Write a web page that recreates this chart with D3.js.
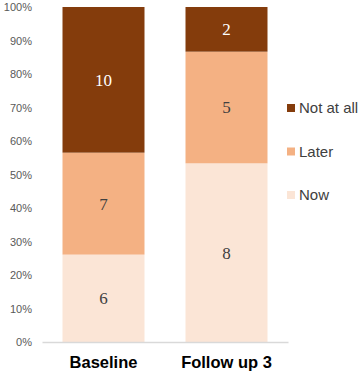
<!DOCTYPE html>
<html>
<head>
<meta charset="utf-8">
<script src="https://cdn.jsdelivr.net/npm/d3@7"></script>
<style>
  body { margin: 0; background: #fff; }
  svg { display: block; }
</style>
</head>
<body>
<div id="chart"></div>
<script>
// data
const groups = ["Baseline", "Follow up 3"];
const seriesNames = ["Now", "Later", "Not at all"];
const nowCounts = [6, 8];
const laterCounts = [7, 5];
const notAtAllCounts = [10, 2];
const yTicks = [0, 0.1, 0.2, 0.3, 0.4, 0.5, 0.6, 0.7, 0.8, 0.9, 1.0];

const colors = { "Now": "#FBE5D6", "Later": "#F4B183", "Not at all": "#843C0C" };
const labelColors = { "Now": "#404040", "Later": "#404040", "Not at all": "#ffffff" };

const width = 360, height = 375;
const margin = { top: 7, right: 72, bottom: 33, left: 42 };

const svg = d3.select("#chart").append("svg")
    .attr("width", width)
    .attr("height", height);

// build table for stacking
const table = groups.map((g, i) => {
    const total = nowCounts[i] + laterCounts[i] + notAtAllCounts[i];
    return {
        group: g,
        "Now": nowCounts[i] / total,
        "Later": laterCounts[i] / total,
        "Not at all": notAtAllCounts[i] / total,
        counts: { "Now": nowCounts[i], "Later": laterCounts[i], "Not at all": notAtAllCounts[i] }
    };
});

const x = d3.scaleBand()
    .domain(groups)
    .range([margin.left, width - margin.right])
    .paddingInner(1 / 3)
    .paddingOuter(1 / 6);

const y = d3.scaleLinear()
    .domain([0, 1])
    .range([height - margin.bottom, margin.top]);

const stacked = d3.stack().keys(seriesNames)(table);

// bars
const layer = svg.selectAll("g.layer")
    .data(stacked)
    .enter().append("g")
    .attr("class", "layer")
    .attr("fill", d => colors[d.key]);

layer.selectAll("rect")
    .data(d => d.map(p => Object.assign(p, { key: d.key })))
    .enter().append("rect")
    .attr("x", d => x(d.data.group))
    .attr("width", x.bandwidth())
    .attr("y", d => y(d[1]))
    .attr("height", d => y(d[0]) - y(d[1]));

// value labels
layer.selectAll("text")
    .data(d => d)
    .enter().append("text")
    .attr("x", d => x(d.data.group) + x.bandwidth() / 2)
    .attr("y", d => (y(d[0]) + y(d[1])) / 2)
    .attr("dy", "0.35em")
    .attr("text-anchor", "middle")
    .attr("font-family", "'Liberation Serif', 'DejaVu Serif', serif")
    .attr("font-size", 17)
    .attr("fill", d => labelColors[d.key])
    .text(d => d.data.counts[d.key]);

// y axis
const yAxis = svg.append("g")
    .attr("transform", "translate(" + (margin.left - 10) + ",0)")
    .call(d3.axisLeft(y).tickValues(yTicks).tickFormat(d3.format(".0%")).tickSize(0).tickPadding(0));
yAxis.select(".domain").remove();
yAxis.selectAll("text")
    .attr("font-family", "'Liberation Sans', Arial, sans-serif")
    .attr("font-size", 11)
    .attr("fill", "#595959");

// x axis
const xAxis = svg.append("g")
    .attr("transform", "translate(0," + (height - margin.bottom) + ")")
    .call(d3.axisBottom(x).tickSize(0).tickPadding(14));
xAxis.select(".domain")
    .attr("stroke", "#d9d9d9")
    .attr("stroke-width", 1.3);
xAxis.selectAll("text")
    .attr("font-family", "'Liberation Sans', Arial, sans-serif")
    .attr("font-size", 16.5)
    .attr("font-weight", "bold")
    .attr("fill", "#000");

// legend
const legendItems = seriesNames.slice().reverse();
const legend = svg.append("g")
    .attr("transform", "translate(287,0)");

const item = legend.selectAll("g")
    .data(legendItems)
    .enter().append("g")
    .attr("transform", (d, i) => "translate(0," + (108 + i * 43.5) + ")");

item.append("rect")
    .attr("x", 0)
    .attr("y", -4)
    .attr("width", 8)
    .attr("height", 8)
    .attr("fill", d => colors[d]);

item.append("text")
    .attr("x", 12)
    .attr("dy", "0.35em")
    .attr("font-family", "'Liberation Sans', Arial, sans-serif")
    .attr("font-size", 15)
    .attr("fill", "#404040")
    .text(d => d);
</script>
</body>
</html>
